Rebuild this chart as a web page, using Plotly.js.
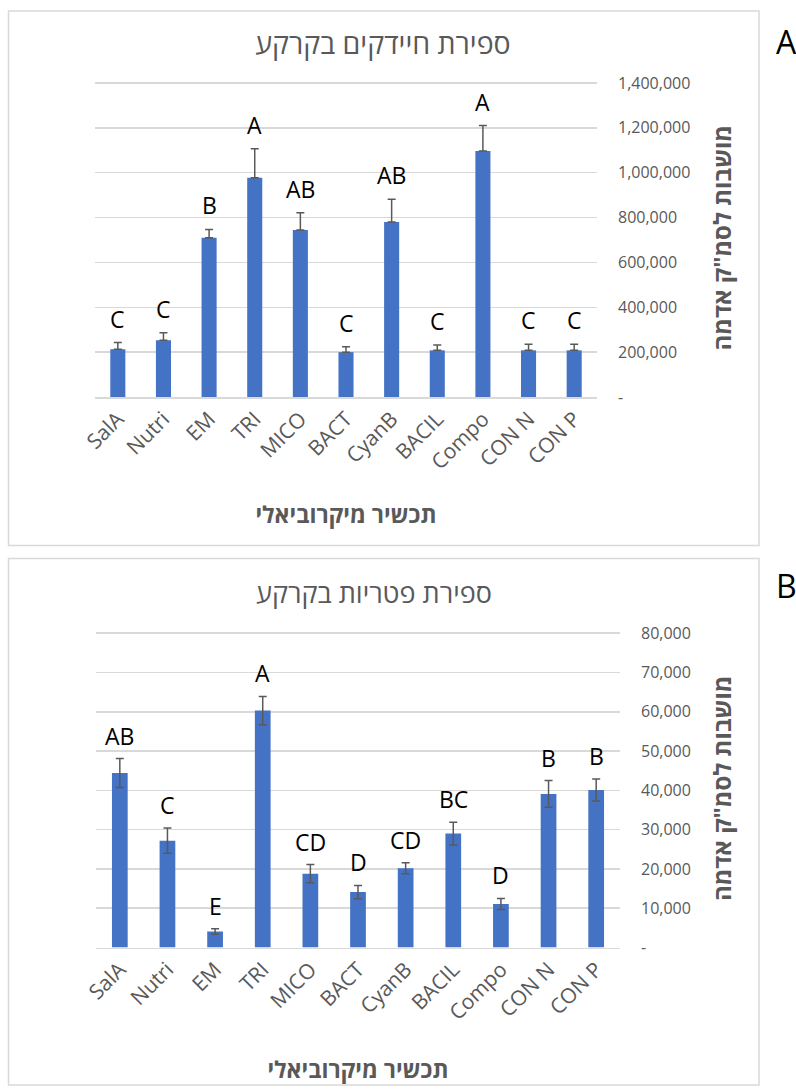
<!DOCTYPE html>
<html><head><meta charset="utf-8">
<script src="https://cdn.plot.ly/plotly-3.0.1.min.js"></script>
<style>body{margin:0;padding:0;background:#fff}#chart{width:796px;height:1090px}</style>
</head><body><div id="chart"></div>
<script>
const categories = ['SalA','Nutri','EM','TRI','MICO','BACT','CyanB','BACIL','Compo','CON N','CON P'];

const bacteriaMeans = [213000, 253000, 710000, 978000, 744000, 200000, 780000, 208000, 1097000, 208000, 208000];
const bacteriaErrors = [30000, 33000, 37000, 129000, 77000, 24000, 102000, 24000, 113000, 27000, 27000];
const bacteriaLetters = ['C','C','B','A','AB','C','AB','C','A','C','C'];
const bacteriaTickVals = [0, 200000, 400000, 600000, 800000, 1000000, 1200000, 1400000];
const bacteriaTickText = ['-', '200,000', '400,000', '600,000', '800,000', '1,000,000', '1,200,000', '1,400,000'];

const fungiMeans = [44400, 27200, 4100, 60300, 18800, 14100, 20200, 29000, 11100, 39100, 40100];
const fungiErrors = [3700, 3200, 700, 3600, 2300, 1700, 1400, 2900, 1400, 3400, 2800];
const fungiLetters = ['AB','C','E','A','CD','D','CD','BC','D','B','B'];
const fungiTickVals = [0, 10000, 20000, 30000, 40000, 50000, 60000, 70000, 80000];
const fungiTickText = ['-', '10,000', '20,000', '30,000', '40,000', '50,000', '60,000', '70,000', '80,000'];

const titleA = 'ספירת חיידקים בקרקע';
const titleB = 'ספירת פטריות בקרקע';
const xTitle = 'תכשיר מיקרוביאלי';
const yTitle = 'מושבות לסמ"ק אדמה';

const FONT = 'Open Sans, Liberation Sans, DejaVu Sans, sans-serif';
const GRAY = '#595959';
const W = 796, H = 1090;
const px = v => v / W;
const py = v => 1 - v / H;

const traces = [
  {
    type: 'bar', x: categories, y: bacteriaMeans, xaxis: 'x', yaxis: 'y',
    marker: {color: '#4472C4'},
    error_y: {type: 'data', array: bacteriaErrors, symmetric: false, arrayminus: bacteriaErrors.map(() => 0), color: GRAY, thickness: 1.5, width: 4},
    hoverinfo: 'skip'
  },
  {
    type: 'bar', x: categories, y: fungiMeans, xaxis: 'x2', yaxis: 'y2',
    marker: {color: '#4472C4'},
    error_y: {type: 'data', array: fungiErrors, color: GRAY, thickness: 1.5, width: 4},
    hoverinfo: 'skip'
  }
];

const annotations = [];
categories.forEach((c, i) => {
  annotations.push({x: c, y: bacteriaMeans[i] + bacteriaErrors[i], xref: 'x', yref: 'y', text: bacteriaLetters[i],
    showarrow: false, yanchor: 'middle', yshift: 24, font: {family: FONT, size: 23, color: '#000'}});
  annotations.push({x: c, y: fungiMeans[i] + fungiErrors[i], xref: 'x2', yref: 'y2', text: fungiLetters[i],
    showarrow: false, yanchor: 'middle', yshift: 23, font: {family: FONT, size: 23, color: '#000'}});
});
annotations.push({x: px(374), y: py(592), xref: 'paper', yref: 'paper', text: titleB, showarrow: false,
  xanchor: 'center', yanchor: 'middle', font: {family: FONT, size: 27, color: GRAY}});
annotations.push({x: px(786), y: py(42), xref: 'paper', yref: 'paper', text: 'A', showarrow: false,
  xanchor: 'center', yanchor: 'middle', font: {family: FONT, size: 32, color: '#000'}});
annotations.push({x: px(786), y: py(585), xref: 'paper', yref: 'paper', text: 'B', showarrow: false,
  xanchor: 'center', yanchor: 'middle', font: {family: FONT, size: 32, color: '#000'}});

function xAxis(domain, anchor, standoff) {
  return {
    domain: domain, anchor: anchor, type: 'category', tickangle: -45,
    showgrid: false, showline: true, linecolor: '#d9d9d9', linewidth: 1.5, ticks: '',
    zeroline: false, automargin: false, fixedrange: true,
    tickfont: {family: FONT, size: 21, color: GRAY},
    title: {text: '<b>' + xTitle + '</b>', font: {family: FONT, size: 23, color: GRAY}, standoff: standoff}
  };
}
function yAxis(domain, anchor, range, vals, text) {
  return {
    domain: domain, anchor: anchor, side: 'right', range: range,
    tickvals: vals, ticktext: text, ticks: '', ticklabelstandoff: 20,
    showgrid: true, gridcolor: '#d9d9d9', gridwidth: 1.5, zeroline: false, showline: false,
    automargin: false, fixedrange: true,
    tickfont: {family: FONT, size: 16, color: GRAY},
    title: {text: '<b>' + yTitle + '</b>', font: {family: FONT, size: 24, color: GRAY}, standoff: 24}
  };
}

const layout = {
  width: W, height: H,
  margin: {l: 0, r: 0, t: 0, b: 0},
  paper_bgcolor: '#fff', plot_bgcolor: '#fff',
  showlegend: false, bargap: 0.67,
  title: {text: titleA, x: px(383), xref: 'paper', xanchor: 'center', y: py(44), yref: 'paper', yanchor: 'middle',
    font: {family: FONT, size: 28.5, color: GRAY}},
  xaxis: xAxis([px(95), px(597)], 'y', 33),
  yaxis: yAxis([py(397), py(78.5)], 'x', [0, 1420000], bacteriaTickVals, bacteriaTickText),
  xaxis2: xAxis([px(96), px(620)], 'y2', 37),
  yaxis2: yAxis([py(947.5), py(629.3)], 'x2', [0, 81000], fungiTickVals, fungiTickText),
  annotations: annotations,
  shapes: [
    {type: 'rect', xref: 'paper', yref: 'paper', x0: px(8.5), x1: px(759), y0: py(545.5), y1: py(11), line: {color: '#d9d9d9', width: 1.5}},
    {type: 'rect', xref: 'paper', yref: 'paper', x0: px(8.5), x1: px(759), y0: py(1085), y1: py(558.5), line: {color: '#d9d9d9', width: 1.5}}
  ]
};

Plotly.newPlot('chart', traces, layout, {displayModeBar: false, staticPlot: true});
</script>
</body></html>
